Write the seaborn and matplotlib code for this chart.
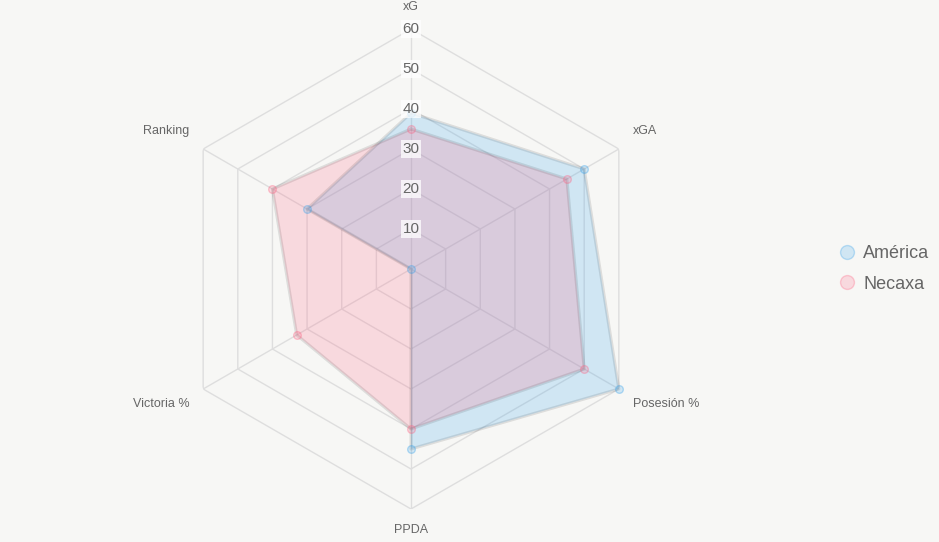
import numpy as np
import matplotlib
matplotlib.use("Agg")
import matplotlib.pyplot as plt
import seaborn as sns
from matplotlib.lines import Line2D

categories = ["xG", "xGA", "Posesión %", "PPDA", "Victoria %", "Ranking"]
america = [39, 50, 60, 45, 0, 30]
necaxa = [35, 45, 50, 40, 33, 40]
ticks = [10, 20, 30, 40, 50, 60]
teams = ["América", "Necaxa"]

sns.set_theme(style="white")
plt.rcParams["font.family"] = ["Liberation Sans", "DejaVu Sans"]

bg = "#f7f7f5"
blue = (54 / 255, 162 / 255, 235 / 255)
pink = (255 / 255, 99 / 255, 132 / 255)
grid_c = "#dedede"
text_c = "#666666"

fig = plt.figure(figsize=(9.39, 5.42), dpi=100, facecolor=bg)
ax = fig.add_axes([0.1821, 0.0609, 0.5112, 0.8856], projection="polar")
ax.set_facecolor("none")
ax.set_theta_offset(np.pi / 2)
ax.set_theta_direction(-1)
ax.set_ylim(0, ticks[-1])
ax.grid(False)
ax.set_xticks([])
ax.set_yticks([])
ax.spines["polar"].set_visible(False)

angles = np.linspace(0, 2 * np.pi, len(categories), endpoint=False)
closed = np.append(angles, angles[0])

# hexagon rings and spokes
for t in ticks:
    ax.plot(closed, [t] * len(closed), color=grid_c, lw=1, zorder=1)
for a in angles:
    ax.plot([a, a], [0, ticks[-1]], color=grid_c, lw=1, zorder=1)

for vals, c in [(america, blue), (necaxa, pink)]:
    v = vals + vals[:1]
    ax.fill(closed, v, color=c, alpha=0.2, lw=0, zorder=2, clip_on=False)
    ax.plot(closed, v, color=(0, 0, 0, 0.1), lw=2.2, zorder=3, clip_on=False)
    ax.plot(angles, vals, "o", ms=5.5, mfc=(*c, 0.2), mec=(*c, 0.35), mew=1,
            zorder=4, clip_on=False)

for t in ticks:
    ax.text(0, t, str(t), ha="center", va="center", fontsize=11, color=text_c, zorder=5,
            bbox=dict(boxstyle="square,pad=0.12", fc="white", ec="none", alpha=0.75))

# point labels (offsets in pixels from the outer vertex)
offsets = [(0, 22, "center"), (14, 18, "left"), (14, -15, "left"),
           (0, -21, "center"), (-14, -15, "right"), (-14, 18, "right")]
for a, lab, (dx, dy, ha) in zip(angles, categories, offsets):
    ax.annotate(lab, xy=(a, ticks[-1]), xytext=(dx, dy), textcoords="offset pixels",
                ha=ha, va="center", fontsize=9, color=text_c)

handles = [Line2D([], [], ls="", marker="o", ms=10, mfc=(*c, 0.2), mec=(*c, 0.3), mew=1)
           for c in (blue, pink)]
fig.legend(handles, teams, loc="center left", bbox_to_anchor=(820 / 939, 1 - 269 / 542),
           frameon=False, fontsize=13, labelcolor=text_c, handletextpad=0.3,
           labelspacing=0.75, handlelength=1.2)

fig.savefig("out.png", dpi=100, facecolor=bg)
